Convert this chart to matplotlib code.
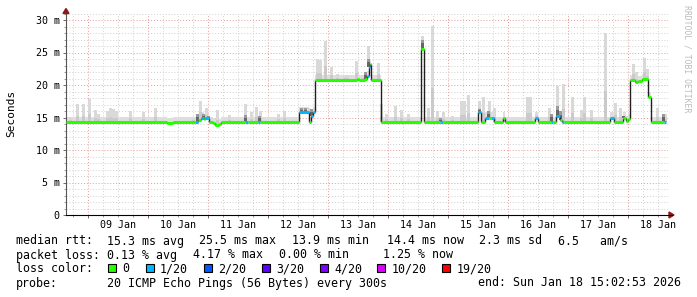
import numpy as np
import matplotlib
matplotlib.use('Agg')
import matplotlib.pyplot as plt
import matplotlib.transforms as mtransforms
from matplotlib.patches import Rectangle, Polygon

# Smokeping grafiek: 10 dae mediaan rtt met rook en verlies kleure
# Tyd in dae relatief tot 09 Jan 00:00

# mediaan rtt [ms], stap begin tye [dae], verlies (uit 20 pings)
med_t = [-0.367, 1.32, 1.42, 1.78, 1.83, 1.88, 1.93, 1.95, 2.02, 2.08,
         2.12, 2.15, 2.18, 2.22, 2.62, 2.67, 2.83, 2.87, 3.52, 3.68,
         3.72, 3.75, 3.78, 4.48, 4.52, 4.62, 4.65, 4.68, 4.70, 4.72,
         4.88, 5.55, 5.60, 5.87, 5.92, 6.50, 6.55, 6.62, 6.68, 6.72,
         6.77, 6.92, 6.95, 7.45, 7.50, 7.72, 7.75, 7.80, 7.87, 7.90,
         7.93, 8.70, 8.77, 8.92, 8.97, 9.00, 9.03, 9.12, 9.17, 9.23,
         9.33, 9.38, 9.60]
med_v = [14.3, 14.1, 14.3, 14.3, 14.6, 15.0, 14.8, 14.9, 14.3, 14.1,
         13.9, 13.8, 14.0, 14.3, 14.3, 14.3, 14.3, 14.3, 15.8, 14.3,
         15.2, 15.8, 20.8, 21.0, 20.8, 21.0, 21.4, 22.7, 23.2, 20.7,
         14.3, 25.5, 14.3, 14.3, 14.3, 15.8, 14.3, 15.0, 14.9, 15.0,
         14.3, 15.0, 14.3, 15.0, 14.3, 14.3, 14.3, 15.2, 14.6, 14.3,
         14.3, 15.0, 14.3, 15.0, 14.4, 14.7, 20.8, 20.4, 20.6, 20.9,
         18.1, 14.3, 14.3]
med_loss = [0, 0, 0, 1, 0, 1, 0, 1, 0, 0,
            0, 0, 0, 0, 1, 0, 1, 0, 1, 0,
            1, 1, 0, 0, 0, 0, 1, 1, 0, 0,
            0, 0, 0, 1, 0, 1, 0, 1, 0, 1,
            0, 0, 0, 1, 0, 1, 0, 1, 0, 1,
            0, 1, 0, 0, 0, 0, 0, 0, 0, 0,
            0, 0, 1]
t_end = 9.627

# rook pieke (ligte grys), tyd [dae] en hoogste ping [ms]
spike_t = [-0.30, -0.18, -0.08, 0.02, 0.12, 0.18, 0.33, 0.38, 0.43, 0.48,
           0.70, 0.92, 1.13, 1.75, 1.88, 1.98, 2.15, 2.35, 2.62, 2.73,
           2.80, 2.87, 3.17, 3.27, 3.57, 3.67, 3.83, 3.87, 3.95, 4.05,
           4.15, 4.27, 4.33, 4.47, 4.57, 4.68, 4.85, 4.90, 4.97, 5.13,
           5.22, 5.35, 5.57, 5.67, 5.75, 5.83, 5.93, 6.08, 6.22, 6.28,
           6.35, 6.52, 6.60, 6.70, 6.78, 6.95, 7.32, 7.37, 7.48, 7.70,
           7.83, 7.92, 8.07, 8.23, 8.28, 8.40, 8.62, 8.80, 8.87, 9.10,
           9.15, 9.27, 9.32, 9.50, 9.62]
spike_v = [15.1, 17.1, 17.1, 17.9, 16.1, 15.6, 16.0, 16.4, 16.3, 16.0,
           16.0, 15.8, 16.4, 15.0, 17.6, 16.4, 16.1, 15.4, 17.1, 15.8,
           16.6, 16.0, 15.6, 16.0, 16.5, 16.5, 24.0, 23.9, 26.8, 22.8,
           21.7, 21.4, 21.6, 23.7, 21.6, 26.0, 23.4, 17.1, 15.6, 16.7,
           16.1, 15.5, 27.6, 16.4, 29.1, 16.0, 15.8, 15.3, 17.6, 17.6,
           18.4, 17.6, 18.1, 17.6, 16.4, 15.0, 18.1, 18.1, 15.6, 16.5,
           19.9, 20.2, 18.1, 16.1, 18.1, 16.1, 28.0, 17.2, 16.5, 23.3,
           22.0, 24.2, 22.5, 16.4, 15.5]

# donker rook (baie pings ver van die mediaan)
dark_t = [1.82, 1.93, 2.00, 2.63, 2.85, 3.55, 3.63, 3.72, 4.63, 4.68,
          5.57, 5.88, 6.52, 6.68, 7.73, 7.83, 7.88, 8.93, 9.60]
dark_v = [15.5, 15.6, 15.3, 15.4, 15.3, 16.5, 16.5, 16.3, 22.0, 24.0,
          27.0, 14.9, 16.3, 16.0, 15.6, 16.8, 16.0, 15.3, 15.5]

day_labels = ['09 Jan', '10 Jan', '11 Jan', '12 Jan', '13 Jan',
              '14 Jan', '15 Jan', '16 Jan', '17 Jan', '18 Jan']
ytick_vals = [0, 5, 10, 15, 20, 25, 30]
ytick_labels = ['0', '5 m', '10 m', '15 m', '20 m', '25 m', '30 m']

loss_steps = [0, 1, 2, 3, 4, 10, 19]
loss_names = ['0', '1/20', '2/20', '3/20', '4/20', '10/20', '19/20']
loss_colors = ['#26ff00', '#00b8ff', '#0059ff', '#5e00ff', '#7e00ff',
               '#dd00ff', '#ff0000']

#%% figuur
W, H = 697, 297
mono = 'DejaVu Sans Mono'
fig = plt.figure(figsize=(W / 100, H / 100), dpi=100)
fig.patch.set_facecolor('white')


def fx(px):
    return px / W


def fy(py):
    return 1 - py / H


ax = fig.add_axes([fx(66), fy(215), (668 - 66) / W, 201.5 / H])
ax.set_xlim(-0.367, 9.667)
ax.set_ylim(0, 31)

# rooster
ax.set_xticks(np.arange(0, 10))
ax.set_xticks([d for d in np.arange(-0.25, 9.7, 0.25) if abs(d - round(d)) > 0.01], minor=True)
ax.set_yticks(ytick_vals)
ax.set_yticks([v for v in range(0, 32) if v % 5], minor=True)
ax.grid(which='minor', color='#cfcfcf', ls=(0, (1, 2)), lw=0.7)
ax.grid(which='major', color='#e49a9a', ls=(0, (1, 2)), lw=0.7)
ax.set_axisbelow(True)
ax.set_xticklabels([])
ax.set_yticklabels(ytick_labels, fontsize=7.2, family=mono)
ax.tick_params(axis='both', which='major', length=2.5, width=0.6, color='#555555', pad=2)
ax.tick_params(axis='both', which='minor', length=1.5, width=0.6, color='#888888')
for s in ['top', 'right']:
    ax.spines[s].set_visible(False)
ax.spines['left'].set_color('#555555')
ax.spines['left'].set_linewidth(0.8)
ax.spines['bottom'].set_color('black')
ax.spines['bottom'].set_linewidth(0.8)

# mediaan opsoek vir rook onderkant
t_edges = np.array(med_t + [t_end])
v_arr = np.array(med_v)


def median_at(t):
    i = np.searchsorted(t_edges, t, side='right') - 1
    return v_arr[np.clip(i, 0, len(v_arr) - 1)]


# basis rook net bo die mediaan
ax.fill_between(t_edges, np.append(v_arr, v_arr[-1]) - 0.1,
                np.append(v_arr, v_arr[-1]) + 0.8, step='post',
                color='#dedede', lw=0, zorder=2)

bw = 3 / 60
sb = median_at(np.array(spike_t))
ax.bar(spike_t, np.array(spike_v) - sb, bottom=sb, width=bw,
       color='#d9d9d9', lw=0, zorder=2)
ax.bar(spike_t, (np.array(spike_v) - sb) * 0.35, bottom=sb, width=bw,
       color='#cacaca', lw=0, zorder=2)
db = median_at(np.array(dark_t))
ax.bar(dark_t, np.array(dark_v) - db, bottom=db, width=bw,
       color='#9a9a9a', lw=0, zorder=3)
ax.bar(dark_t, (np.array(dark_v) - db) * 0.6, bottom=db, width=bw,
       color='#666666', lw=0, zorder=3)

# mediaan lyn: swart vertikale oorgange, gekleurde horisontale stukke
for i in range(1, len(med_t)):
    ax.vlines(med_t[i], med_v[i - 1], med_v[i], color='#202020', lw=1.0, zorder=4)
for i in range(len(med_t)):
    c = loss_colors[max(j for j, s in enumerate(loss_steps) if s <= med_loss[i])]
    ax.hlines(med_v[i], t_edges[i], t_edges[i + 1], color=c, lw=2.2, zorder=5)

# dag etikette by middag
trans = mtransforms.blended_transform_factory(ax.transData, fig.transFigure)
for d, lab in enumerate(day_labels):
    ax.text(d + 0.5, fy(224.5), lab, transform=trans, ha='center', va='center',
            fontsize=7.2, family=mono)

# pyle op die asse
fig.add_artist(plt.Line2D([fx(668), fx(672)], [fy(215), fy(215)], color='black',
                          lw=0.8, transform=fig.transFigure))
fig.add_artist(Polygon([[fx(669), fy(212)], [fx(674), fy(215)], [fx(669), fy(218)]],
                       closed=True, color='#8b1a1a', transform=fig.transFigure))
fig.add_artist(Polygon([[fx(63), fy(13.5)], [fx(66), fy(8.5)], [fx(69), fy(13.5)]],
                       closed=True, color='#8b1a1a', transform=fig.transFigure))

fig.text(fx(11), fy(113), 'Seconds', rotation=90, ha='center', va='center',
         fontsize=8, family=mono)
fig.text(fx(687), fy(5), 'RRDTOOL / TOBI OETIKER', rotation=270, ha='center',
         va='top', fontsize=5.9, family=mono, color='#bbbbbb')


# legende
def put(x, y, s):
    fig.text(fx(x), fy(y), s, ha='left', va='center', fontsize=8.35, family=mono)


put(16, 241, 'median rtt:')
for x, s in [(107, '15.3 ms avg'), (199, '25.5 ms max'), (292.5, '13.9 ms min'),
             (386.5, '14.4 ms now'), (479, '2.3 ms sd'), (558, '6.5   am/s')]:
    put(x, 241, s)
put(16, 255, 'packet loss:')
for x, s in [(107, '0.13 % avg'), (193, '4.17 % max'), (279, '0.00 % min'),
             (383, '1.25 % now')]:
    put(x, 255, s)
put(16, 269, 'loss color:')
box_x = [112, 149.5, 207.5, 265.5, 323.5, 381, 446]
for bx, name, c in zip(box_x, loss_names, loss_colors):
    fig.add_artist(Rectangle((fx(bx - 4), fy(272)), 8 / W, 8 / H, facecolor=c,
                             edgecolor='black', lw=0.8, transform=fig.transFigure))
    put(bx + 10.5, 269, name)
put(16, 283, 'probe:')
put(107, 283, '20 ICMP Echo Pings (56 Bytes) every 300s')
put(478, 283, 'end: Sun Jan 18 15:02:53 2026')

fig.savefig('out.png', dpi=100)
